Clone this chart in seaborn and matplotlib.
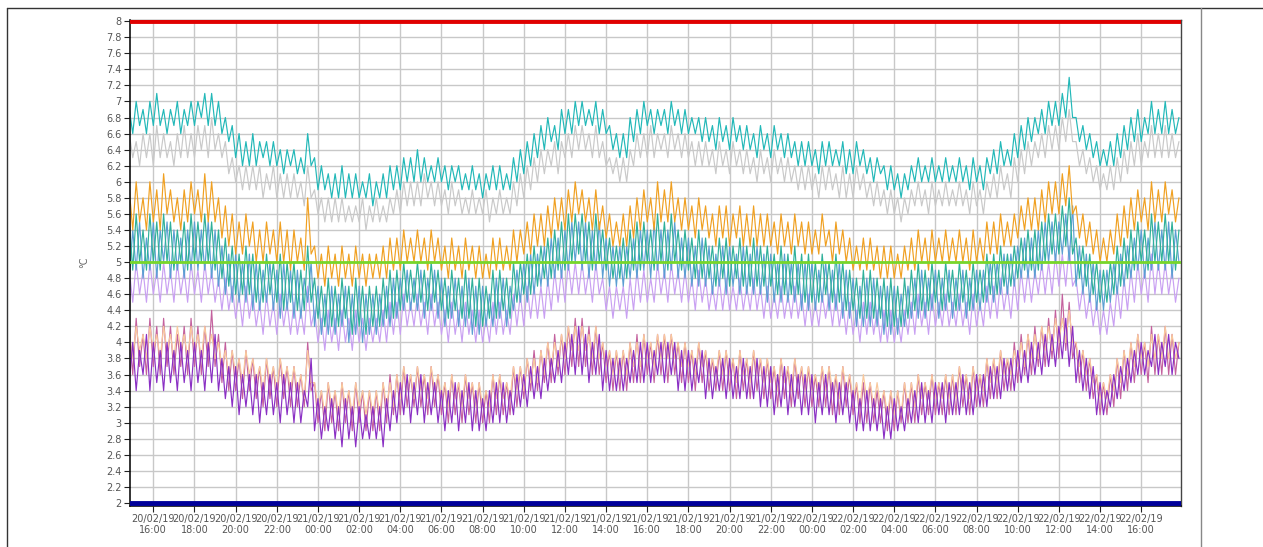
import matplotlib
matplotlib.use('Agg')
import matplotlib.pyplot as plt
import matplotlib.dates as mdates
from matplotlib.lines import Line2D
from matplotlib.ticker import MultipleLocator, FuncFormatter
import seaborn as sns
import numpy as np
import pandas as pd

# readings every 10 minutes, values in tenths of a degree
start = '2019-02-20 14:50'
n_points = 307

cyan = """
69 66 70 67 69 66 70 67 71 67 69 66 69 67 70 66 69 67 70 67 70 68 71 67 71 67 70 66 68 65
67 63 66 62 65 62 66 62 65 63 65 62 65 62 64 61 64 62 64 61 63 61 66 62 63 59 62 59 61 58
61 58 62 58 61 58 61 58 60 58 61 57 60 58 61 58 62 59 62 59 63 60 63 60 64 60 63 60 62 60
63 60 62 59 62 60 62 59 61 59 62 59 61 58 61 59 62 59 62 59 61 59 63 60 64 61 65 62 66 63
67 64 68 65 67 64 69 66 69 66 70 67 70 67 69 67 70 66 69 66 67 64 66 63 66 63 68 65 69 66
70 67 69 66 69 67 69 66 70 67 69 66 69 66 68 66 68 65 68 65 67 64 68 65 67 64 68 65 67 64
67 64 66 63 67 64 66 63 67 64 66 63 66 63 65 62 65 62 65 62 64 61 65 62 65 62 64 62 65 61
64 61 65 62 64 61 63 60 63 61 62 59 62 59 61 58 61 59 62 60 63 60 62 60 63 60 62 60 63 60
62 60 63 60 62 59 63 60 62 59 63 61 64 61 65 62 64 62 66 63 67 64 68 65 68 66 69 66 70 67
70 67 71 68 73 68 68 65 67 64 66 63 65 62 64 62 65 62 66 63 67 64 68 65 69 65 68 66 70 66
69 66 70 66 69 66 68
"""

silver = """
66 63 65 62 66 63 66 62 67 63 66 63 65 62 66 63 67 63 66 63 67 64 67 63 68 64 66 63 65 61
63 60 62 59 62 59 62 59 62 58 61 59 62 58 61 58 61 58 61 58 60 57 62 58 59 56 58 55 58 55
58 55 58 55 57 55 57 55 58 54 57 55 58 55 57 55 58 56 59 56 60 57 60 57 60 57 61 58 60 57
60 57 59 56 60 57 59 56 58 56 59 56 58 56 59 55 58 56 59 56 58 56 60 57 61 58 62 59 63 60
64 61 64 62 65 61 65 63 66 63 67 64 67 64 66 63 67 63 65 62 63 61 63 60 63 60 64 62 66 63
66 63 67 63 66 64 66 63 67 64 66 63 66 63 65 62 65 62 65 62 64 61 65 62 64 61 65 62 64 61
64 61 63 60 64 61 63 60 64 61 63 60 63 60 62 59 62 59 62 59 61 58 62 59 62 59 61 58 62 58
61 58 62 59 61 58 60 57 60 57 59 56 59 56 58 55 58 56 59 57 60 57 59 56 60 57 59 57 60 57
59 57 60 57 59 56 60 57 59 56 60 58 61 58 62 59 61 58 63 60 64 61 65 62 65 63 66 63 67 64
67 64 68 65 69 65 65 62 64 61 63 60 62 59 61 59 62 59 63 60 64 61 65 62 66 62 65 63 67 63
66 63 67 63 66 63 65
"""

orange = """
59 54 60 55 58 54 60 55 59 54 61 56 59 55 58 54 59 55 60 56 59 55 61 55 60 55 58 53 57 52
56 51 55 51 56 52 55 50 54 50 55 51 54 50 55 50 54 49 54 50 53 49 58 51 52 48 51 47 52 48
51 47 52 48 51 47 52 48 51 47 51 48 51 48 52 48 53 49 53 49 54 50 53 50 54 50 53 49 54 50
53 49 52 48 53 49 52 48 53 49 52 48 52 48 51 48 53 49 53 49 52 49 54 50 54 51 55 51 56 52
56 52 57 53 58 54 58 54 59 55 60 56 59 55 58 54 59 54 57 53 56 52 55 52 56 52 57 53 58 54
59 55 58 54 60 55 59 55 60 55 58 54 58 54 57 53 58 54 57 53 56 52 57 53 57 52 56 53 57 52
56 52 57 52 56 52 56 52 55 51 56 52 55 51 56 52 55 51 55 51 54 51 56 52 54 50 55 51 54 50
53 49 52 49 53 49 53 49 52 48 52 48 52 48 51 48 52 49 53 49 54 50 53 49 54 50 53 50 54 50
53 50 54 50 53 49 54 50 53 50 55 51 55 51 56 52 55 52 56 53 57 54 58 54 58 54 59 55 60 56
60 56 61 57 62 56 57 53 56 52 55 51 54 50 53 50 54 51 56 52 57 53 58 54 59 55 58 54 60 55
59 55 60 56 59 55 58
"""

teal = """
55 49 56 50 54 49 56 50 55 49 56 50 55 49 54 50 55 49 56 50 55 50 56 50 55 49 54 48 53 47
52 46 51 46 52 46 51 45 50 45 51 46 50 45 51 44 50 45 50 44 49 44 52 45 48 43 47 42 48 42
47 42 48 43 47 41 48 42 47 41 47 42 47 42 48 43 49 43 49 44 50 45 49 45 50 45 49 44 50 45
49 44 48 43 49 44 48 43 49 43 48 42 48 42 47 43 49 43 49 44 48 43 50 45 50 46 51 46 52 47
52 48 53 48 54 49 55 49 56 50 56 51 56 50 55 49 56 50 54 49 53 48 52 48 53 48 54 49 55 49
55 50 54 49 56 50 55 49 56 50 54 49 54 49 53 48 54 48 53 48 52 47 53 48 53 47 52 48 53 47
52 47 53 47 52 47 52 47 51 46 52 46 51 46 52 46 51 45 51 45 50 45 51 46 50 45 51 45 50 44
49 44 48 43 49 43 49 43 48 43 48 42 48 42 47 42 48 43 49 44 50 44 49 44 50 45 49 44 50 45
49 44 50 45 49 44 50 45 49 45 51 46 51 46 52 47 51 47 52 48 53 49 54 49 54 49 55 50 56 51
56 51 57 52 58 51 53 48 52 47 51 46 50 45 49 45 50 46 52 47 53 48 54 49 55 50 54 49 56 50
55 50 56 50 55 49 54
"""

steel = """
48 54 49 55 48 53 49 55 48 54 50 55 48 54 49 53 48 54 49 55 49 54 49 55 48 54 47 52 46 51
45 51 45 50 45 51 44 50 44 49 45 50 44 49 43 50 44 49 43 49 43 48 45 50 42 47 41 46 41 47
41 46 42 47 40 46 41 47 40 46 41 46 41 46 42 47 42 48 43 48 44 49 44 48 44 49 43 48 44 49
43 48 42 47 43 48 42 47 42 48 41 47 41 47 42 46 42 48 43 48 42 47 44 49 45 50 45 51 46 51
47 52 47 53 48 53 48 54 49 55 50 55 49 55 48 54 49 55 48 53 47 52 47 52 47 52 48 53 48 54
49 54 48 55 49 54 48 54 49 55 48 53 48 53 47 52 47 53 47 52 46 51 47 52 46 52 47 51 46 52
46 51 46 52 46 51 45 51 45 50 45 51 45 50 45 50 44 50 44 50 44 49 45 50 44 49 44 50 43 49
43 48 42 47 42 48 42 48 42 47 41 47 41 47 41 46 42 47 43 48 43 49 43 48 44 49 43 48 44 49
43 48 44 49 43 48 44 49 44 49 45 50 45 50 46 51 46 51 47 52 48 53 48 53 48 54 49 55 50 55
50 55 51 56 50 57 47 52 46 51 45 50 44 49 44 49 45 50 46 51 47 52 48 53 49 54 48 53 49 55
49 54 49 55 48 54 50
"""

lavender = """
49 45 50 46 49 45 50 46 49 45 50 46 49 45 50 46 49 45 50 46 49 45 50 46 49 45 48 44 48 44
47 43 46 42 47 43 46 42 45 41 46 42 45 41 46 42 45 41 45 41 44 41 47 42 44 40 43 39 44 40
43 39 44 40 43 39 44 40 43 39 43 40 43 40 44 40 45 41 45 41 46 42 45 42 46 42 45 41 46 42
45 41 44 40 45 41 44 40 45 41 44 40 44 40 43 40 45 41 45 41 44 41 46 42 46 42 47 43 47 43
47 43 48 44 49 45 49 45 50 46 50 46 50 46 49 45 50 46 48 44 47 43 47 44 47 43 48 44 49 45
49 45 48 45 50 46 49 45 50 46 49 45 49 45 48 44 49 45 48 44 47 44 48 44 48 44 47 44 48 44
47 44 48 44 47 43 47 43 46 43 47 43 46 43 47 43 46 42 46 42 45 42 46 43 46 42 46 42 45 41
45 41 44 40 45 41 45 41 44 40 44 40 44 40 43 40 44 41 45 41 46 42 45 41 46 42 45 42 46 42
45 42 46 42 45 41 46 42 45 42 47 43 47 43 48 44 47 43 48 44 49 45 49 45 49 46 50 46 50 46
51 47 51 47 52 47 48 44 47 43 46 42 45 41 44 41 45 42 47 43 48 44 49 45 50 46 49 45 51 46
50 46 50 46 49 45 48
"""

peach = """
41 38 42 39 41 38 42 39 41 38 42 39 41 38 42 39 41 38 42 39 41 38 42 39 41 38 40 37 39 36
39 36 38 35 39 36 38 35 37 34 38 35 37 34 38 35 37 34 37 34 36 33 39 35 35 32 34 31 35 32
34 31 35 32 34 31 35 32 34 31 34 31 34 31 35 32 35 32 36 33 37 34 36 33 37 34 36 33 37 34
36 33 35 32 36 33 35 32 36 33 35 32 35 32 34 32 36 33 36 33 35 33 37 34 37 34 38 35 38 35
39 36 40 37 40 37 41 38 42 39 42 39 42 39 41 38 42 38 40 37 39 36 39 36 39 36 40 37 40 37
41 38 40 37 41 38 41 38 41 38 40 37 40 37 39 36 40 37 39 36 38 36 39 36 39 36 38 35 39 36
38 35 39 36 38 35 38 35 37 34 38 35 37 34 38 35 37 34 37 34 36 34 37 34 37 34 36 33 37 34
36 33 35 32 36 33 35 32 35 32 34 31 34 31 34 31 35 32 35 32 36 33 35 33 36 33 35 33 36 33
36 33 37 34 36 33 37 34 36 34 38 35 38 35 39 36 38 36 39 37 40 37 41 38 41 38 42 39 42 39
43 40 43 40 44 40 40 37 39 36 38 35 36 33 35 33 36 34 38 35 39 36 40 37 41 38 40 37 41 38
41 38 42 38 41 38 40
"""

mauve = """
42 36 43 37 41 36 43 37 42 36 43 37 42 36 41 37 42 36 43 37 42 36 42 37 44 37 41 35 40 34
39 34 38 33 39 34 38 33 37 32 38 33 37 32 38 33 37 32 37 32 36 32 40 34 35 30 34 29 35 30
34 29 35 30 34 29 35 30 34 29 34 29 34 29 35 30 36 31 36 31 37 32 36 32 37 32 36 31 37 32
36 31 35 30 36 31 35 30 36 31 35 30 35 30 34 30 36 31 36 31 35 31 37 32 37 33 38 34 39 34
39 35 40 35 41 36 41 36 42 37 43 37 43 37 42 36 42 36 40 35 39 34 39 34 39 34 40 35 41 35
41 36 40 35 41 36 41 35 41 36 40 35 40 35 39 34 40 35 39 34 38 34 39 34 39 34 38 33 39 34
38 33 39 34 38 33 38 33 37 32 38 33 37 32 38 33 37 32 37 32 36 32 37 32 37 31 36 31 37 32
36 31 35 30 35 30 35 30 34 30 34 29 34 29 34 30 35 30 35 30 36 31 35 31 36 31 35 31 36 31
36 31 37 32 36 31 37 32 36 32 38 33 38 33 39 34 38 34 40 35 41 36 41 36 42 37 42 37 43 38
44 38 46 39 45 38 40 35 39 34 38 33 36 31 35 31 36 32 38 33 39 34 40 35 41 36 40 35 42 36
41 36 42 36 41 36 40
"""

purple = """
35 40 34 39 36 41 34 40 35 39 34 40 35 39 34 40 35 39 34 40 35 39 34 40 35 41 34 38 33 37
32 37 31 36 32 36 31 36 30 35 31 36 31 35 30 36 31 35 30 35 30 34 32 38 29 33 28 32 29 33
28 32 27 33 28 32 27 32 28 31 28 32 28 32 27 33 29 34 30 35 31 36 30 35 31 36 30 35 31 35
30 34 29 34 30 35 29 34 30 35 29 34 29 33 29 34 30 35 30 35 30 34 31 36 32 36 32 37 33 37
33 38 34 38 35 39 35 40 36 41 36 42 36 41 35 40 36 41 34 39 34 38 34 38 34 38 35 39 35 40
35 40 35 39 36 40 35 40 36 40 34 39 34 39 34 38 35 39 33 38 33 37 34 38 33 38 33 37 33 38
33 37 33 38 32 37 32 37 31 36 32 37 31 36 32 36 31 36 31 36 30 35 31 36 31 35 30 35 31 35
30 34 29 33 29 34 29 33 29 33 28 32 28 33 29 32 29 33 30 34 30 35 30 34 30 35 31 35 30 35
31 35 31 36 31 35 31 36 32 36 32 37 33 37 33 38 34 38 34 39 35 39 35 40 36 40 36 41 37 41
37 42 38 43 37 42 35 39 34 38 33 37 31 35 31 34 32 36 33 37 34 38 35 39 36 40 36 39 37 41
36 40 37 41 36 40 38
"""

high_limit = 8.0
low_limit = 2.0
setpoint = 5.0

series = {
    'lavender': lavender, 'mauve': mauve, 'peach': peach, 'purple': purple,
    'steel': steel, 'teal': teal, 'silver': silver, 'cyan': cyan, 'orange': orange,
}
colors = {
    'lavender': '#c9a0f2', 'peach': '#f9c89c', 'mauve': '#c4619e', 'purple': '#8a2fc4',
    'steel': '#5b9fd2', 'teal': '#2fb09a', 'silver': '#c9c9c9', 'cyan': '#22b8b8',
    'orange': '#f0a021',
}

times = pd.date_range(start, periods=n_points, freq='10min')
frames = []
for name, txt in series.items():
    vals = np.array(txt.split(), dtype=float) / 10
    frames.append(pd.DataFrame({'time': times, 'temp': vals, 'sensor': name}))
df = pd.concat(frames, ignore_index=True)

sns.set_style('white')
plt.rcParams['font.family'] = ['DejaVu Sans']

fig = plt.figure(figsize=(12.63, 5.47), dpi=100)
ax = fig.add_axes([130 / 1263, 41.5 / 547, 1051 / 1263, 486 / 547])

ax.grid(True, color='#c8c8c8', lw=1, zorder=0)
ax.set_axisbelow(True)

sns.lineplot(data=df, x='time', y='temp', hue='sensor', hue_order=list(series),
             palette=colors, lw=0.85, legend=False, estimator=None, ax=ax)

ax.axhline(setpoint, color='#78d62a', lw=2, zorder=5)
ax.axhline(high_limit, color='#e00000', lw=3.5, zorder=5)
ax.axhline(low_limit, color='#00009a', lw=3.5, zorder=5)

ax.set_xlim(pd.Timestamp('2019-02-20 14:52'), pd.Timestamp('2019-02-22 17:56'))
ax.set_ylim(1.97, 8.02)

ax.yaxis.set_major_locator(MultipleLocator(0.2))
ax.yaxis.set_minor_locator(MultipleLocator(0.05))
ax.yaxis.set_major_formatter(FuncFormatter(lambda v, p: f'{v:.1f}'.rstrip('0').rstrip('.')))
ax.xaxis.set_major_locator(mdates.HourLocator(byhour=range(0, 24, 2)))
ax.xaxis.set_minor_locator(mdates.MinuteLocator(byminute=[0, 30]))
ax.xaxis.set_major_formatter(mdates.DateFormatter('%d/%m/%y\n%H:%M'))

ax.tick_params(axis='both', which='major', length=4, width=0.8, color='#222',
               labelsize=7, labelcolor='#555', pad=2)
ax.tick_params(axis='both', which='minor', length=2, width=0.8, color='#222')
ax.tick_params(axis='y', left=True)
ax.tick_params(axis='x', bottom=True)

for s in ['left', 'bottom']:
    ax.spines[s].set_color('#111')
    ax.spines[s].set_linewidth(1.2)
for s in ['top', 'right']:
    ax.spines[s].set_color('#444')
    ax.spines[s].set_linewidth(1)

ax.set_xlabel('')
ax.set_ylabel('°C', fontsize=7, color='#666', labelpad=12)

# window frame around the chart panel
fig.add_artist(Line2D([7 / 1263, 1], [1 - 8 / 547] * 2, transform=fig.transFigure, color='#333', lw=1))
fig.add_artist(Line2D([7 / 1263] * 2, [0, 1 - 8 / 547], transform=fig.transFigure, color='#333', lw=1))
fig.add_artist(Line2D([1201 / 1263] * 2, [0, 1 - 8 / 547], transform=fig.transFigure, color='#888', lw=1))

fig.savefig('out.png', dpi=100, facecolor='white')
